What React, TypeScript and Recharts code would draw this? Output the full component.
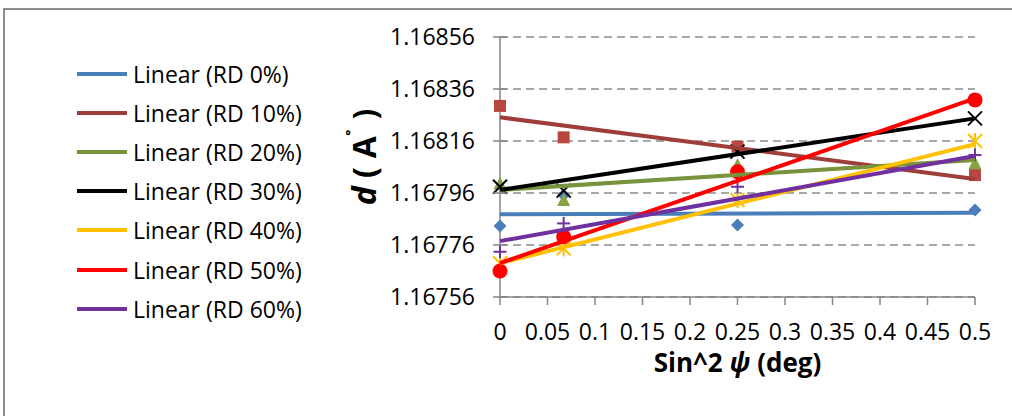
import { ScatterChart, Scatter, XAxis, YAxis, CartesianGrid, Label } from 'recharts';

// sin^2(psi) positions of the measured points
const xValues = [0, 0.067, 0.25, 0.5];

// measured d-spacing per relative density
const rd0 = [1.167833, 1.167952, 1.167837, 1.167895];
const rd10 = [1.168295, 1.168174, 1.168138, 1.168029];
const rd20 = [1.167997, 1.167933, 1.168068, 1.168074];
const rd30 = [1.167984, 1.167969, 1.168119, 1.168247];
const rd40 = [1.16769, 1.167747, 1.167933, 1.16816];
const rd50 = [1.16766, 1.167792, 1.168042, 1.168318];
const rd60 = [1.167734, 1.167843, 1.167984, 1.168106];

// linear trendline end points (at x = 0 and x = 0.5)
const trendX = [0, 0.5];
const trend0 = [1.167878, 1.167884];
const trend10 = [1.168251, 1.168014];
const trend20 = [1.167972, 1.168087];
const trend30 = [1.167972, 1.168247];
const trend40 = [1.16769, 1.168148];
const trend50 = [1.16769, 1.168324];
const trend60 = [1.167775, 1.168102];

const seriesNames = ['RD 0%', 'RD 10%', 'RD 20%', 'RD 30%', 'RD 40%', 'RD 50%', 'RD 60%'];

const xTicks = [0, 0.05, 0.1, 0.15, 0.2, 0.25, 0.3, 0.35, 0.4, 0.45, 0.5];
const yTicks = [1.16756, 1.16776, 1.16796, 1.16816, 1.16836, 1.16856];

type MarkerKind = 'diamond' | 'square' | 'triangle' | 'cross' | 'star' | 'circle' | 'plus';

const series = [
  { values: rd0, trend: trend0, marker: 'diamond', markerColor: '#4A7EBB', lineColor: '#4A7EBB' },
  { values: rd10, trend: trend10, marker: 'square', markerColor: '#B8483F', lineColor: '#9E3D3A' },
  { values: rd20, trend: trend20, marker: 'triangle', markerColor: '#86A346', lineColor: '#77933C' },
  { values: rd30, trend: trend30, marker: 'cross', markerColor: '#000000', lineColor: '#000000' },
  { values: rd40, trend: trend40, marker: 'star', markerColor: '#FFC000', lineColor: '#FFC000' },
  { values: rd50, trend: trend50, marker: 'circle', markerColor: '#FF0000', lineColor: '#FF0000' },
  { values: rd60, trend: trend60, marker: 'plus', markerColor: '#7030A0', lineColor: '#7030A0' },
] as { values: number[]; trend: number[]; marker: MarkerKind; markerColor: string; lineColor: string }[];

const toPoints = (xs: number[], ys: number[]) => xs.map((x, i) => ({ x, y: ys[i] }));

const makeShape = (kind: MarkerKind, color: string) => (props: any) => {
  const { cx, cy } = props;
  if (cx == null || cy == null) return <g />;
  switch (kind) {
    case 'diamond':
      return <polygon points={`${cx},${cy - 6.5} ${cx + 6.5},${cy} ${cx},${cy + 6.5} ${cx - 6.5},${cy}`} fill={color} />;
    case 'square':
      return <rect x={cx - 6} y={cy - 6} width={12} height={12} fill={color} />;
    case 'triangle':
      return <polygon points={`${cx},${cy - 7} ${cx + 6.5},${cy + 6} ${cx - 6.5},${cy + 6}`} fill={color} />;
    case 'cross':
      return (
        <g stroke={color} strokeWidth={2}>
          <line x1={cx - 7} y1={cy - 7} x2={cx + 7} y2={cy + 7} />
          <line x1={cx - 7} y1={cy + 7} x2={cx + 7} y2={cy - 7} />
        </g>
      );
    case 'star':
      return (
        <g stroke={color} strokeWidth={2}>
          <line x1={cx - 7} y1={cy - 7} x2={cx + 7} y2={cy + 7} />
          <line x1={cx - 7} y1={cy + 7} x2={cx + 7} y2={cy - 7} />
          <line x1={cx} y1={cy - 8} x2={cx} y2={cy + 8} />
        </g>
      );
    case 'circle':
      return <circle cx={cx} cy={cy} r={7.5} fill={color} />;
    case 'plus':
      return (
        <g stroke={color} strokeWidth={2}>
          <line x1={cx - 6.5} y1={cy} x2={cx + 6.5} y2={cy} />
          <line x1={cx} y1={cy - 6.5} x2={cx} y2={cy + 6.5} />
        </g>
      );
    default:
      return <g />;
  }
};

const noShape = () => <g />;

const axisGrey = '#868686';

const YTick = (props: any) => {
  const { x, y, payload } = props;
  return (
    <g>
      <line x1={x + 18} y1={y} x2={x + 32} y2={y} stroke={axisGrey} strokeWidth={1.5} />
      <text x={x} y={y} dy="0.35em" textAnchor="end" fill="#000" fontSize={23}>
        {Number(payload.value).toFixed(5)}
      </text>
    </g>
  );
};

const XTick = (props: any) => {
  const { x, y, payload } = props;
  return (
    <text x={x} y={y} dy="0.35em" textAnchor="middle" fill="#000" fontSize={23}>
      {String(payload.value)}
    </text>
  );
};

export default function App() {
  return (
    <div
      style={{
        position: 'absolute',
        left: 0,
        top: 0,
        width: 1012,
        height: 416,
        overflow: 'hidden',
        background: '#fff',
        fontFamily: '"Open Sans", sans-serif',
      }}
    >
      <div
        style={{
          position: 'absolute',
          left: 3,
          top: 8,
          width: 1100,
          height: 500,
          borderTop: '2px solid #8c8c8c',
          borderLeft: '2px solid #8c8c8c',
        }}
      />
      <div style={{ position: 'absolute', left: 0, top: 0 }}>
        <ScatterChart
          width={1012}
          height={416}
          margin={{ top: 37, right: 37, left: 360, bottom: 0 }}
          style={{ fontFamily: '"Open Sans", sans-serif' }}
        >
          <CartesianGrid vertical={false} stroke="#8c8c8c" strokeWidth={1.5} strokeDasharray="8 5" />
          <XAxis
            type="number"
            dataKey="x"
            domain={[0, 0.5]}
            ticks={xTicks}
            height={119}
            stroke={axisGrey}
            strokeWidth={1.5}
            tickSize={8}
            tickMargin={27}
            tick={<XTick />}
          >
            <Label
              content={(p: any) => {
                const vb = p.viewBox;
                return (
                  <text
                    x={vb.x + vb.width / 2}
                    y={vb.y + 66}
                    dy="0.35em"
                    textAnchor="middle"
                    fontSize={26}
                    fontWeight="bold"
                    fill="#000"
                  >
                    Sin^2 <tspan fontStyle="italic">ψ</tspan> (deg)
                  </text>
                );
              }}
            />
          </XAxis>
          <YAxis
            type="number"
            dataKey="y"
            domain={[1.16756, 1.16856]}
            ticks={yTicks}
            width={140}
            stroke={axisGrey}
            strokeWidth={1.5}
            tickLine={false}
            tickSize={0}
            tickMargin={25}
            tick={<YTick />}
          >
            <Label
              content={(p: any) => {
                const vb = p.viewBox;
                const cx = vb.x + 5;
                const cy = 157;
                return (
                  <text
                    x={cx}
                    y={cy}
                    dy="0.35em"
                    textAnchor="middle"
                    fontSize={32}
                    fontWeight="bold"
                    fill="#000"
                    transform={`rotate(-90 ${cx} ${cy})`}
                  >
                    <tspan fontStyle="italic">d</tspan> (<tspan dx={9}>A</tspan>
                    <tspan fontSize={20} dy={-14}>˚</tspan>
                    <tspan dy={14} dx={10}>)</tspan>
                  </text>
                );
              }}
            />
          </YAxis>
          {series.map((s, i) => (
            <Scatter
              key={'pts' + i}
              name={seriesNames[i]}
              data={toPoints(xValues, s.values)}
              fill={s.markerColor}
              shape={makeShape(s.marker, s.markerColor)}
              isAnimationActive={false}
            />
          ))}
          {series.map((s, i) => (
            <Scatter
              key={'trend' + i}
              name={'Linear (' + seriesNames[i] + ')'}
              data={toPoints(trendX, s.trend)}
              line={{ stroke: s.lineColor, strokeWidth: 4 }}
              lineType="joint"
              shape={noShape}
              isAnimationActive={false}
            />
          ))}
        </ScatterChart>
      </div>
      <div style={{ position: 'absolute', left: 77, top: 54 }}>
        {series.map((s, i) => (
          <div key={i} style={{ display: 'flex', alignItems: 'center', height: 39.2 }}>
            <div style={{ width: 50, height: 4, background: s.lineColor, marginRight: 6 }} />
            <span style={{ fontSize: 23, color: '#000', whiteSpace: 'nowrap' }}>
              {'Linear (' + seriesNames[i] + ')'}
            </span>
          </div>
        ))}
      </div>
    </div>
  );
}
